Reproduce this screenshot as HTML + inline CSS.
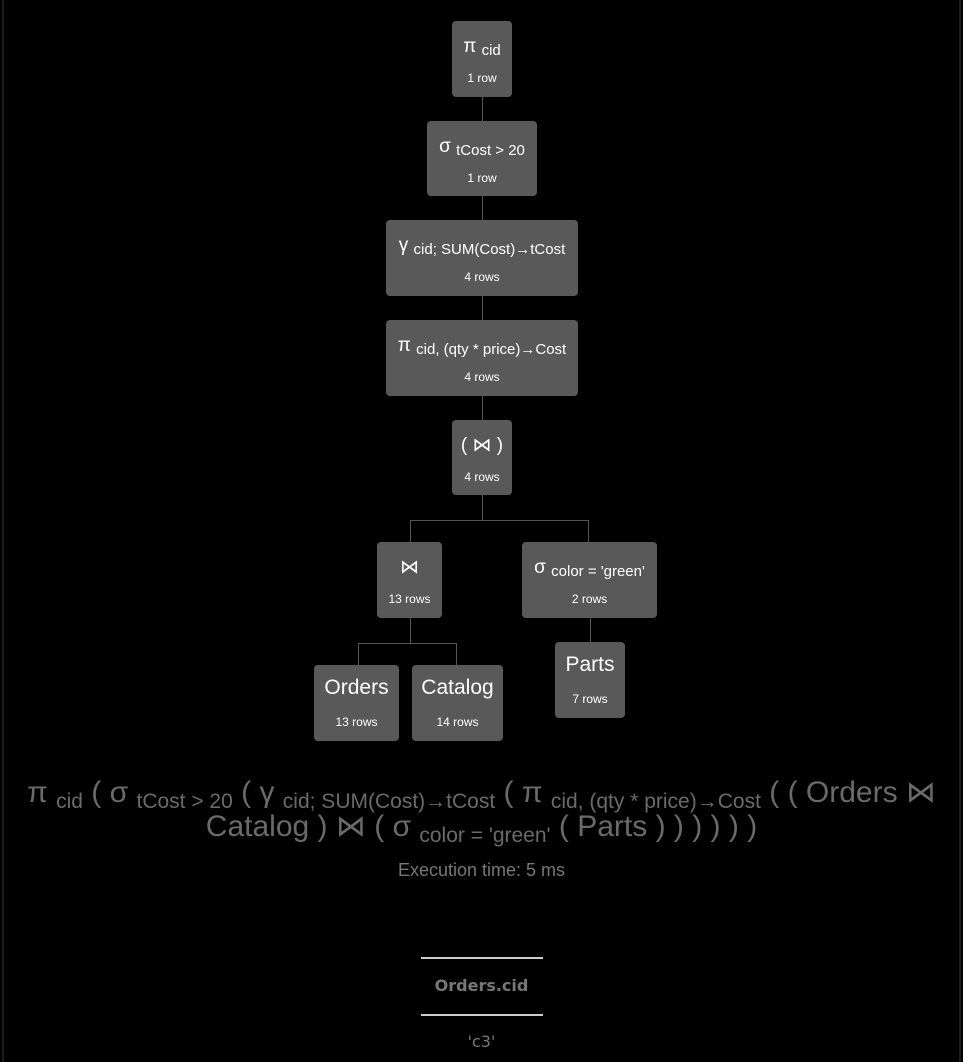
<!DOCTYPE html>
<html><head><meta charset="utf-8"><style>
html,body{margin:0;padding:0;background:#000;width:963px;height:1062px;overflow:hidden;font-family:"Liberation Sans",sans-serif}
.b{position:absolute;background:#595959;border-radius:4px;color:#fff;text-align:center}
.t{position:absolute;left:0;right:0;top:15px;font-size:19px;white-space:nowrap;line-height:22px}
.t sub{font-size:15px;vertical-align:-3px}
.r{position:absolute;left:0;right:0;top:50px;font-size:12px;line-height:14px}
.l{position:absolute;background:#555}
.f{position:absolute;left:0;width:963px;text-align:center;color:#6a6a6a;font-size:30px;line-height:34px;white-space:nowrap}
.f sub{font-size:21px;vertical-align:-6px}
.d{font-family:"DejaVu Sans",sans-serif}
</style></head><body>
<div style="position:absolute;left:2px;top:0;width:2px;height:1062px;background:#1c1c1c"></div>
<div style="position:absolute;left:959px;top:0;width:2px;height:1062px;background:#1c1c1c"></div>

<div class="l" style="left:482px;top:97px;width:1px;height:24px"></div>
<div class="l" style="left:482px;top:196px;width:1px;height:24px"></div>
<div class="l" style="left:482px;top:296px;width:1px;height:24px"></div>
<div class="l" style="left:482px;top:396px;width:1px;height:24px"></div>
<div class="l" style="left:482px;top:495px;width:1px;height:25px"></div>
<div class="l" style="left:410px;top:520px;width:179px;height:1px"></div>
<div class="l" style="left:410px;top:520px;width:1px;height:22px"></div>
<div class="l" style="left:588px;top:520px;width:1px;height:22px"></div>
<div class="l" style="left:410px;top:618px;width:1px;height:25px"></div>
<div class="l" style="left:358px;top:643px;width:99px;height:1px"></div>
<div class="l" style="left:358px;top:643px;width:1px;height:22px"></div>
<div class="l" style="left:456px;top:643px;width:1px;height:22px"></div>
<div class="l" style="left:590px;top:618px;width:1px;height:24px"></div>

<div class="b" style="left:452px;top:21px;width:60px;height:76px"><div class="t">π <sub>cid</sub></div><div class="r">1 row</div></div>
<div class="b" style="left:427px;top:121px;width:110px;height:75px"><div class="t">σ <sub>tCost &gt; 20</sub></div><div class="r">1 row</div></div>
<div class="b" style="left:386px;top:220px;width:192px;height:76px"><div class="t">γ <sub>cid; SUM(Cost)→tCost</sub></div><div class="r">4 rows</div></div>
<div class="b" style="left:386px;top:320px;width:192px;height:76px"><div class="t">π <sub>cid, (qty * price)→Cost</sub></div><div class="r">4 rows</div></div>
<div class="b" style="left:452px;top:420px;width:60px;height:75px"><div class="t">( ⋈ )</div><div class="r">4 rows</div></div>
<div class="b" style="left:377px;top:542px;width:65px;height:76px"><div class="t">⋈</div><div class="r">13 rows</div></div>
<div class="b" style="left:522px;top:542px;width:135px;height:76px"><div class="t">σ <sub>color = 'green'</sub></div><div class="r">2 rows</div></div>
<div class="b" style="left:314px;top:665px;width:85px;height:76px"><div class="t" style="font-size:21px;top:12px">Orders</div><div class="r">13 rows</div></div>
<div class="b" style="left:412px;top:665px;width:91px;height:76px"><div class="t" style="font-size:21px;top:12px">Catalog</div><div class="r">14 rows</div></div>
<div class="b" style="left:555px;top:642px;width:70px;height:76px"><div class="t" style="font-size:21px;top:12px">Parts</div><div class="r">7 rows</div></div>

<div class="f" style="top:776px">π <sub>cid</sub> ( σ <sub>tCost &gt; 20</sub> ( γ <sub>cid; SUM(Cost)→tCost</sub> ( π <sub>cid, (qty * price)→Cost</sub> ( ( Orders ⋈</div>
<div class="f" style="top:810px">Catalog ) ⋈ ( σ <sub>color = 'green'</sub> ( Parts ) ) ) ) ) )</div>
<div class="f" style="top:859px;font-size:18px;line-height:22px;color:#777">Execution time: 5 ms</div>

<div style="position:absolute;left:421px;top:957px;width:122px;height:2px;background:#ccc"></div>
<div class="f d" style="top:975px;font-size:16px;line-height:22px;color:#777;font-weight:bold">Orders.cid</div>
<div style="position:absolute;left:421px;top:1014px;width:122px;height:2px;background:#ccc"></div>
<div class="f d" style="top:1031px;font-size:16px;line-height:22px;color:#777">'c3'</div>
</body></html>
